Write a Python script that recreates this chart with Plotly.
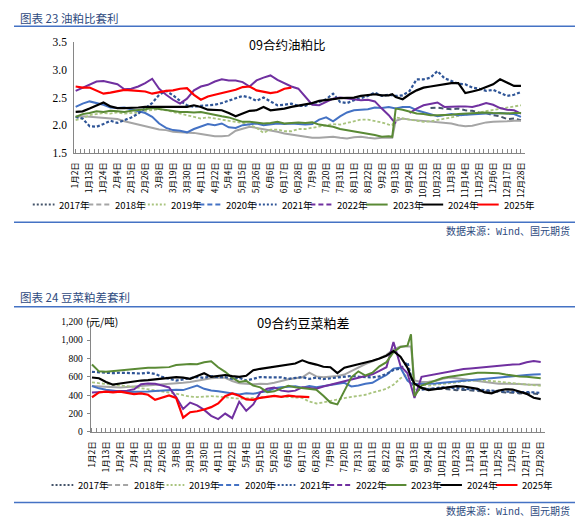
import plotly.graph_objects as go

W, H = 583, 525
OFF = 8  # the page body adds an 8px margin around the figure

# trading-day position of each sample: every 4 days, plus day 182 (contract roll)
day_idx = list(range(0, 181, 4)) + [182] + list(range(184, 257, 4))

tick_idx = list(range(0, 257, 8))
tick_labels = ["1月2日", "1月13日", "1月24日", "2月4日", "2月15日", "2月26日",
               "3月8日", "3月19日", "3月30日", "4月11日", "4月22日", "5月4日",
               "5月15日", "5月26日", "6月6日", "6月17日", "6月28日", "7月9日",
               "7月20日", "7月31日", "8月11日", "8月22日", "9月2日", "9月13日",
               "9月24日", "10月12日", "10月23日", "11月3日", "11月14日", "11月25日",
               "12月6日", "12月17日", "12月28日"]

years = ["2017年", "2018年", "2019年", "2020年", "2021年",
         "2022年", "2023年", "2024年", "2025年"]

# ---- 09合约油粕比 ----
oil_2017 = [2.31, 2.32, 2.30, 2.29, 2.30, 2.27, 2.26, 2.23, 2.22, 2.18, 2.16, 2.11, 2.12, 2.09]
oil_2018 = [2.15, 2.16, 2.15, 2.14, 2.13, 2.12, 2.11, 2.07,
            2.04, 2.01, 1.99, 1.95, 1.92, 1.91, 1.88, 1.87,
            1.87, 1.86, 1.84, 1.82, 1.80, 1.80, 1.81, 1.90,
            1.94, 1.97, 1.95, 1.93, 1.91, 1.88, 1.85, 1.83,
            1.80, 1.78, 1.77, 1.77, 1.78, 1.79, 1.77, 1.76,
            1.78, 1.79, 1.77, 1.76, 1.77, 1.77, 1.77, 2.08, 2.12,
            2.10, 2.09, 2.07, 2.06, 2.06, 2.05, 2.03, 2.00,
            1.98, 1.99, 2.02, 2.05, 2.06, 2.06, 2.07, 2.08,
            2.08]
oil_2019 = [2.09, 2.12, 2.18, 2.20, 2.22, 2.21, 2.23, 2.21,
            2.22, 2.23, 2.26, 2.27, 2.29, 2.27, 2.24, 2.21,
            2.18, 2.15, 2.12, 2.14, 2.12, 2.10, 2.09, 2.07,
            2.04, 2.01, 1.95, 1.86, 1.92, 1.92, 1.89, 1.89,
            1.93, 1.93, 1.95, 1.97, 1.99, 2.02, 2.01, 2.04,
            2.07, 2.10, 2.10, 2.08, 2.05, 2.01, 2.00, 2.14, 2.12,
            2.09, 2.07, 2.06, 2.07, 2.09, 2.11, 2.14, 2.17,
            2.19, 2.21, 2.23, 2.26, 2.28, 2.30, 2.32, 2.33,
            2.36]
oil_2020 = [2.33, 2.39, 2.43, 2.40, 2.37, 2.32, 2.31, 2.32,
            2.29, 2.26, 2.22, 2.15, 2.03, 1.95, 1.91, 1.90,
            1.87, 1.93, 1.97, 2.02, 2.00, 2.03, 1.96, 1.95,
            2.00, 2.02, 2.03, 2.00, 2.02, 2.03, 2.02, 2.03,
            2.02, 2.01, 2.02, 2.10, 2.14, 2.07, 2.16, 2.23,
            2.27, 2.28, 2.29, 2.32, 2.31, 2.33, 2.31, 2.30, 2.33,
            2.33, 2.27, 2.24, 2.20, 2.16, 2.18, 2.20, 2.18,
            2.19, 2.20, 2.21, 2.21, 2.21, 2.22, 2.21, 2.20,
            2.15]
oil_2021 = [2.15, 2.12, 1.98, 1.97, 2.02, 2.08, 2.04, 2.09,
            2.14, 2.21, 2.30, 2.40, 2.55, 2.62, 2.54, 2.44,
            2.36, 2.33, 2.35, 2.36, 2.37, 2.40, 2.44, 2.48,
            2.53, 2.50, 2.44, 2.50, 2.43, 2.36, 2.37, 2.39,
            2.35, 2.35, 2.40, 2.42, 2.47, 2.57, 2.42, 2.40,
            2.45, 2.49, 2.53, 2.59, 2.53, 2.55, 2.54, 2.53, 2.54,
            2.62, 2.83, 2.83, 2.86, 2.98, 2.85, 2.80, 2.75,
            2.74, 2.68, 2.66, 2.62, 2.64, 2.59, 2.53, 2.55,
            2.60]
oil_2022 = [2.62, 2.68, 2.73, 2.79, 2.80, 2.77, 2.74, 2.65,
            2.66, 2.70, 2.76, 2.84, 2.66, 2.55, 2.46, 2.39,
            2.48, 2.63, 2.70, 2.73, 2.79, 2.83, 2.81, 2.81,
            2.78, 2.70, 2.81, 2.86, 2.90, 2.82, 2.76, 2.70,
            2.66, 2.52, 2.37, 2.36, 2.42, 2.48, 2.50, 2.48,
            2.47, 2.45, 2.46, 2.43, 2.30, 2.18, 2.10, 2.03, None,
            2.22, 2.30, 2.36, 2.39, 2.41, 2.33, 2.34, 2.34,
            2.34, 2.33, 2.36, 2.40, 2.37, 2.31, 2.28, 2.27,
            2.21]
oil_2023 = [2.15, 2.20, 2.22, 2.25, 2.24, 2.26, 2.25, 2.24,
            2.26, 2.27, 2.29, 2.31, 2.29, 2.28, 2.26, 2.24,
            2.24, 2.23, 2.24, 2.21, 2.18, 2.16, 2.14, 2.10,
            2.06, 2.06, 2.04, 2.03, 2.04, 2.06, 2.03, 2.04,
            2.05, 2.04, 2.05, 2.01, 1.99, 1.97, 1.93, 1.91,
            1.89, 1.87, 1.84, 1.82, 1.79, 1.80, 1.79, 2.30, 2.28,
            2.24, 2.21, 2.20, 2.18, 2.18, 2.18, 2.19, 2.20,
            2.21, 2.21, 2.22, 2.23, 2.22, 2.21, 2.21, 2.22,
            2.22]
oil_2024 = [2.24, 2.25, 2.30, 2.35, 2.41, 2.34, 2.31, 2.31,
            2.31, 2.32, 2.33, 2.33, 2.34, 2.33, 2.34, 2.34,
            2.33, 2.36, 2.33, 2.28, 2.27, 2.27, 2.22, 2.16,
            2.21, 2.26, 2.27, 2.33, 2.27, 2.28, 2.30, 2.33,
            2.35, 2.38, 2.40, 2.44, 2.45, 2.47, 2.49, 2.49,
            2.50, 2.53, 2.55, 2.56, 2.54, 2.54, 2.56, 2.51, 2.47,
            2.56, 2.63, 2.68, 2.70, 2.72, 2.74, 2.76, 2.76,
            2.58, 2.61, 2.64, 2.69, 2.74, 2.83, 2.77, 2.71,
            2.71]
oil_2025 = [2.70, 2.68, 2.68, 2.62, 2.57, 2.59, 2.61, 2.64,
            2.63, 2.62, 2.61, 2.57, 2.60, 2.62, 2.63, 2.66,
            2.67, 2.55, 2.46, 2.52, 2.55, 2.58, 2.61, 2.64,
            2.69, 2.70, 2.63, 2.61, 2.58, 2.60, 2.66, 2.68]

# ---- 09合约豆菜粕差 (元/吨) ----
meal_2017 = [478, 470, 466, 470, 462, 455, 458, 450, 445,
             440, 446, 436, 430, 428, 420, 424, 415, 412]
meal_2018 = [500, 495, 490, 488, 485, 490, 495, 500,
             505, 510, 515, 520, 525, 535, 545, 560,
             575, 585, 590, 590, 555, 530, 525, 520,
             525, 522, 535, 555, 575, 585, 595, 645,
             605, 595, 600, 610, 625, 665, 700, 740,
             770, 800, 840, 900, 930, 930, 930, 560, 545,
             548, 555, 580, 593, 585, 575, 560, 552,
             542, 532, 524, 526, 528, 522, 518, 516,
             515]
meal_2019 = [540, 530, 522, 515, 505, 500, 488, 475,
             465, 458, 445, 433, 418, 400, 385, 380,
             385, 390, 385, 378, 370, 362, 365, 372,
             378, 382, 390, 385, 380, 380, 370, 330,
             310, 322, 340, 352, 368, 382, 392, 405,
             428, 448, 470, 515, 585, 625, 610, 530, 520,
             505, 515, 522, 532, 540, 552, 558, 562,
             560, 557, 548, 540, 532, 522, 512, 505,
             503]
meal_2020 = [500, 475, 460, 448, 440, 436, 435, 436,
             440, 445, 452, 458, 460, 456, 480, 505,
             470, 452, 444, 430, 415, 408, 422, 415,
             433, 444, 475, 488, 492, 498, 482, 500,
             488, 500, 518, 530, 535, 495, 505, 525,
             535, 580, 620, 690, 700, 560, 530, 522, 522,
             525, 528, 535, 542, 550, 557, 565, 575,
             585, 592, 597, 605, 610, 615, 620, 625,
             628]
meal_2021 = [655, 650, 640, 640, 645, 646, 640, 636,
             646, 632, 600, 580, 560, 572, 585, 598,
             588, 608, 595, 598, 578, 590, 560, 580,
             598, 595, 598, 594, 578, 585, 598, 578,
             592, 576, 585, 595, 605, 610, 602, 598,
             594, 605, 630, 675, 690, 760, 600, 455, 460,
             469, 480, 486, 482, 476, 469, 462, 458,
             452, 448, 444, 440, 437, 437, 437, 432,
             426]
meal_2022 = [430, 435, 440, 442, 445, 450, 465, 520,
             528, 525, 505, 485, 380, 250, 320, 290,
             240, 175, 140, 200, 150, 330, 230, 300,
             430, 470, 485, 450, 440, 450, 486, 478,
             470, 495, 515, 535, 555, 575, 590, 610,
             628, 665, 705, 980, 720, 640, 500, 370, 600,
             615, 630, 645, 660, 675, 685, 692, 700,
             705, 712, 725, 734, 735, 738, 760, 772,
             762]
meal_2023 = [734, 660, 655, 662, 668, 680, 688, 695,
             699, 699, 703, 706, 730, 738, 740, 738,
             760, 770, 705, 655, 590, 545, 556, 505,
             486, 433, 442, 475, 502, 488, 480, 468,
             460, 395, 320, 300, 450, 595, 660, 615,
             645, 715, 760, 870, 925, 940, 1065, 390, 505,
             535, 558, 588, 600, 612, 626, 638, 645,
             646, 645, 638, 625, 612, 605, 600, 592,
             585]
meal_2024 = [593, 585, 545, 515, 528, 540, 555, 560,
             565, 575, 582, 588, 598, 592, 578, 610,
             640, 600, 612, 620, 608, 600, 612, 672,
             688, 700, 708, 720, 735, 745, 780, 752,
             734, 710, 705, 640, 700, 718, 735, 750,
             775, 800, 830, 880, 820, 700, 600, 525, 480,
             455, 465, 480, 490, 500, 495, 485, 470,
             430, 420, 450, 465, 462, 440, 415, 372,
             358]
meal_2025 = [378, 430, 440, 430, 438, 425, 412, 420,
             405, 350, 372, 398, 370, 155, 215, 225,
             245, 270, 310, 390, 420, 395, 355, 350,
             372, 385, 392, 382, 395, 388, 380, 380]

oil_series = [oil_2017, oil_2018, oil_2019, oil_2020, oil_2021,
              oil_2022, oil_2023, oil_2024, oil_2025]
meal_series = [meal_2017, meal_2018, meal_2019, meal_2020, meal_2021,
               meal_2022, meal_2023, meal_2024, meal_2025]

colors = ["#44546A", "#A5A5A5", "#A9C47F", "#4472C4", "#2F5597",
          "#7030A0", "#5A8A35", "#000000", "#FF0000"]
line_dash = ["5px,3px", "solid", "3px,2px", "solid", "3px,2px",
             "solid", "solid", "solid", "solid"]
line_w = [2, 2, 1.8, 2, 2.2, 2, 2, 2.2, 2.2]
legend_dash = ["2px,2px", "5px,3px", "2px,2px", "5px,3px", "2px,2px",
               "5px,3px", "solid", "solid", "solid"]

AXIS = "#868686"
NAVY = "#2E4A7E"
CJK = "Noto Sans CJK SC"
NARROW = "Liberation Sans Narrow, Noto Sans CJK SC"
SERIF = "Liberation Serif, Times New Roman, serif"
MONO_CJK = "Liberation Mono, Noto Sans CJK SC"


def px(x):
    return (x - OFF) / W


def py(y):
    return 1 - (y - OFF) / H


fig = go.Figure()

for k in range(len(years)):
    for series, xa, ya in ((oil_series[k], "x", "y"), (meal_series[k], "x2", "y2")):
        # 2025 runs from the start of the year, 2017 only covers the tail end
        xs = day_idx[:len(series)] if k == 8 else day_idx[len(day_idx) - len(series):]
        fig.add_trace(go.Scatter(
            x=xs, y=series, mode="lines", xaxis=xa, yaxis=ya,
            line=dict(color=colors[k], width=line_w[k], dash=line_dash[k]),
            showlegend=False, hoverinfo="skip"
        ))

xcommon = dict(
    range=[-0.8, 258.2], tickmode="array", tickvals=tick_idx, ticktext=tick_labels,
    tickangle=-90, ticks="inside", ticklen=4, tickcolor=AXIS, tickwidth=1,
    showline=True, linecolor=AXIS, linewidth=1, showgrid=False, zeroline=False,
    tickfont=dict(family=NARROW, size=8.5, color="#000000"), ticklabelstandoff=5,
    minor=dict(tickmode="linear", tick0=0, dtick=8 / 3, ticks="inside",
               ticklen=4, tickcolor=AXIS, showgrid=False),
)

shapes = []
annotations = []

# header / footer rules
for yy in (20.5, 221, 307.5, 508):
    shapes.append(dict(type="line", xref="paper", yref="paper",
                       x0=0, x1=1, y0=py(yy), y1=py(yy),
                       line=dict(color="#4472C4", width=1.5)))

annotations += [
    dict(text="图表 23 油粕比套利", x=px(12), y=py(12), xanchor="left", yanchor="middle",
         font=dict(family=CJK, size=11.5, color=NAVY)),
    dict(text="图表 24 豆菜粕差套利", x=px(12), y=py(297.5), xanchor="left", yanchor="middle",
         font=dict(family=CJK, size=11.5, color=NAVY)),
    dict(text="数据来源：Wind、国元期货", x=px(573), y=py(231), xanchor="right", yanchor="middle",
         font=dict(family=MONO_CJK, size=10, color=NAVY)),
    dict(text="数据来源：Wind、国元期货", x=px(573), y=py(517), xanchor="right", yanchor="middle",
         font=dict(family=MONO_CJK, size=10, color=NAVY)),
    dict(text="09合约油粕比", x=px(284), y=py(39), xanchor="center", yanchor="middle",
         font=dict(family=CJK, size=12.5, color="#000000")),
    dict(text="09合约豆菜粕差", x=px(301), y=py(324), xanchor="center", yanchor="middle",
         font=dict(family=CJK, size=13, color="#000000")),
    dict(text="(元/吨)", x=px(79), y=py(323), xanchor="left", yanchor="middle",
         font=dict(family=CJK, size=10.5, color="#000000")),
]

# hand-drawn legends (compact, like the original)
for x0, yy in ((27, 203), (46, 490)):
    for k, yr in enumerate(years):
        sx = x0 + k * 56.2
        shapes.append(dict(type="line", xref="paper", yref="paper",
                           x0=px(sx), x1=px(sx + 22), y0=py(yy), y1=py(yy),
                           line=dict(color=colors[k], width=2, dash=legend_dash[k])))
        annotations.append(dict(text=yr, x=px(sx + 25), y=py(yy), xanchor="left",
                                yanchor="middle",
                                font=dict(family=NARROW, size=9.5, color="#000000")))

for a in annotations:
    a.update(xref="paper", yref="paper", showarrow=False)

fig.update_layout(
    width=W, height=H,
    margin=dict(l=0, r=0, t=0, b=0),
    paper_bgcolor="white", plot_bgcolor="white",
    font=dict(family=CJK, color="#000000"),
    showlegend=False,
    xaxis=dict(domain=[px(69), px(525)], anchor="y", **xcommon),
    yaxis=dict(domain=[py(150), py(37)], anchor="x", range=[1.5, 3.5], tick0=1.5, dtick=0.5,
               tickformat=".1f", showline=True, linecolor=AXIS, ticks="", showgrid=False,
               zeroline=False, ticklabelstandoff=4,
               tickfont=dict(family=SERIF, size=11.5, color="#000000")),
    xaxis2=dict(domain=[px(85.5), px(545)], anchor="y2", **xcommon),
    yaxis2=dict(domain=[py(435.7), py(323)], anchor="x2", range=[0, 1200], dtick=200,
                tickformat=",d", showline=True, linecolor=AXIS, ticks="outside", ticklen=3,
                tickcolor=AXIS, showgrid=False, zeroline=False, ticklabelstandoff=2,
                tickfont=dict(family=SERIF, size=9.5, color="#000000")),
    shapes=shapes,
    annotations=annotations,
)

fig.write_html("out.html")
